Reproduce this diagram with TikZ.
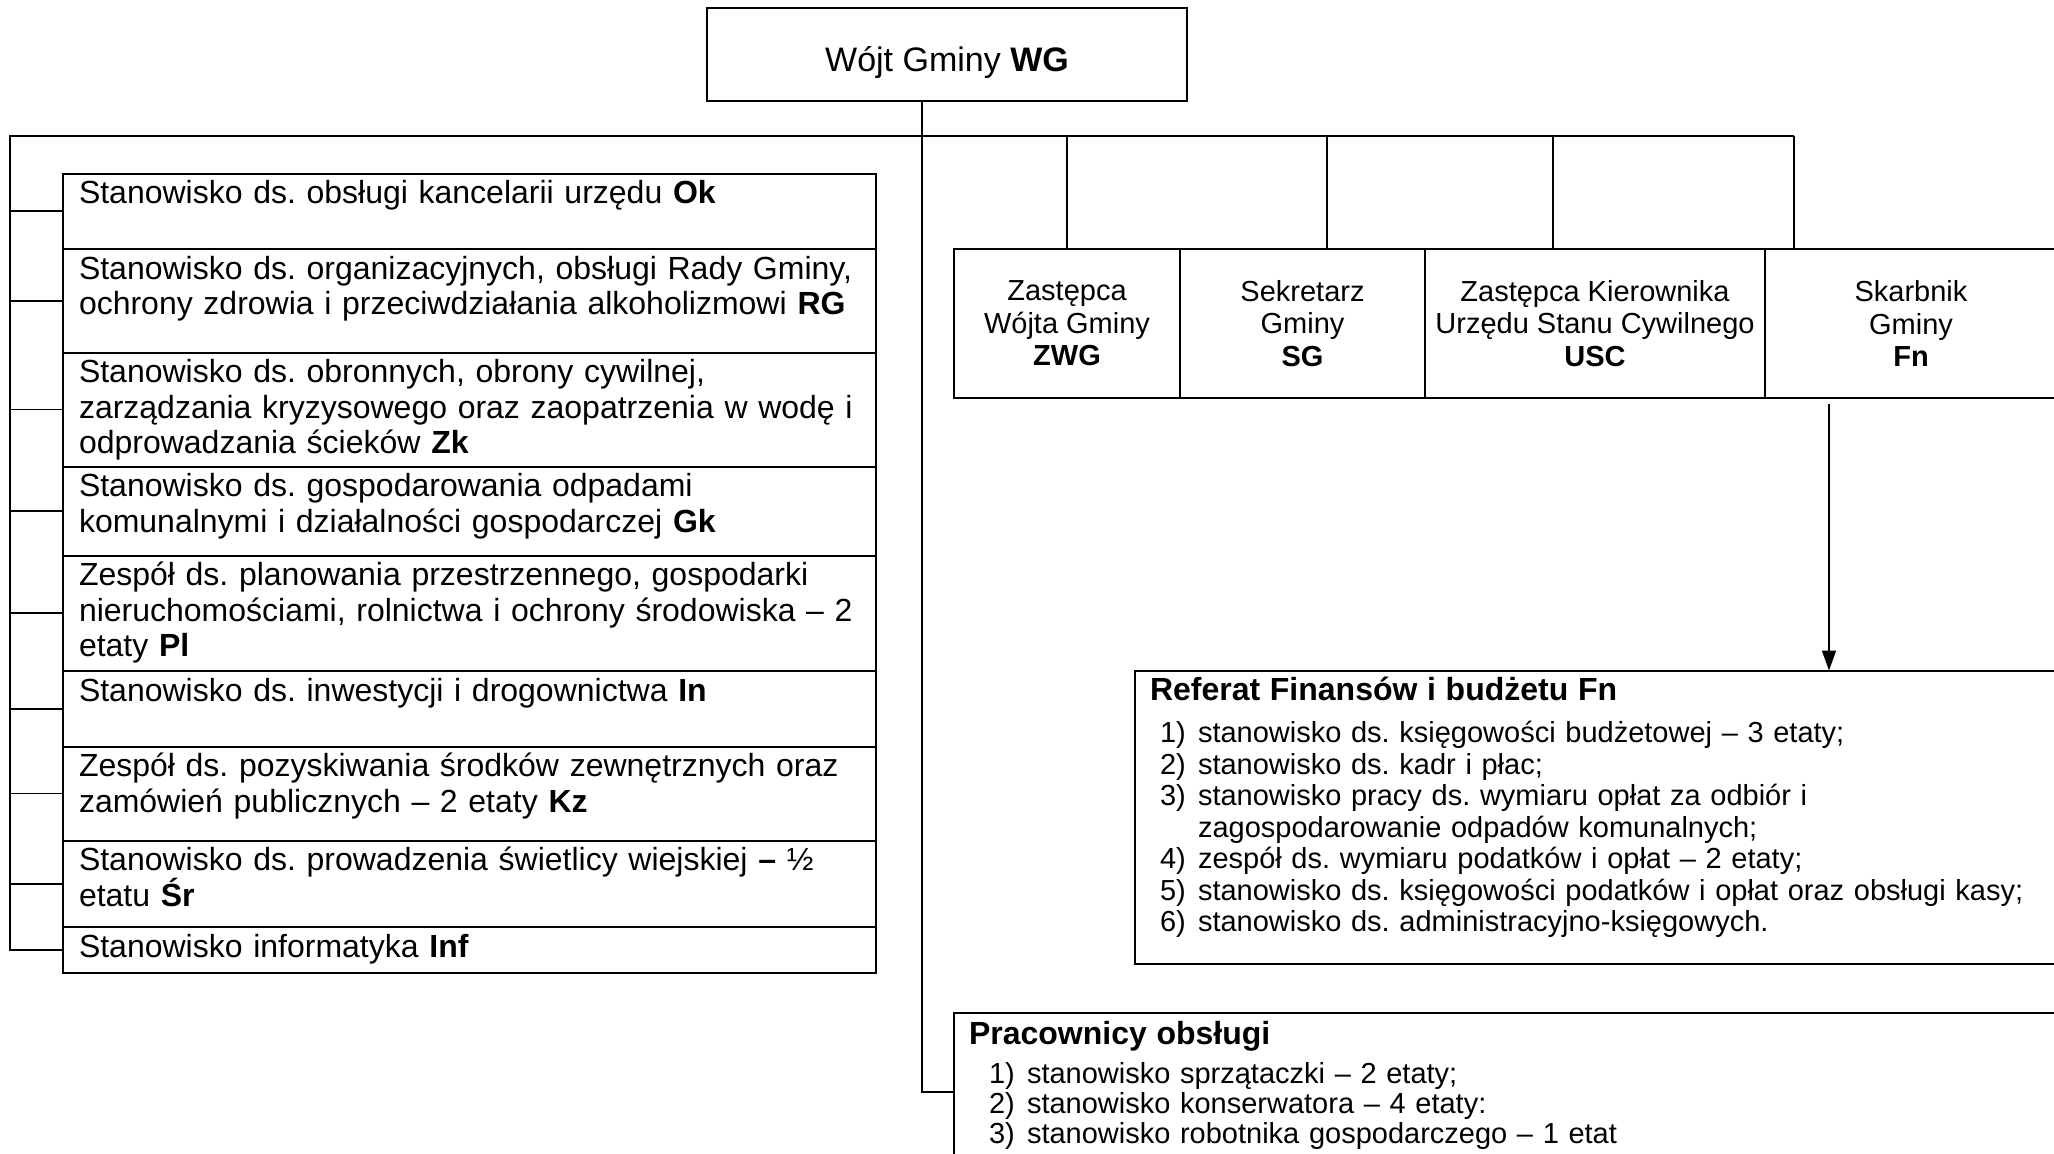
\documentclass[tikz,border=0pt]{standalone}
\usepackage{fontspec}
\setmainfont{Liberation Sans}
\frenchspacing
\usetikzlibrary{positioning, arrows.meta}

% numbered list line: indent, number, text
\newcommand{\pozycja}[3]{\makebox[#1][l]{\hspace*{\dimexpr#1-38pt\relax}#2)}#3}

\begin{document}
\begin{tikzpicture}[x=1pt, y=-1pt, line width=1.6pt,
    box/.style={draw, line width=2pt, inner sep=0pt, outer sep=0pt},
    wgbox/.style={box, minimum width=480pt, text height=63pt, text depth=30pt,
        font=\fontsize{34}{38}\selectfont},
    rowbox/.style={box, minimum height=149pt, align=center, font=\fontsize{29}{32.5}\selectfont},
    stbox/.style={box, anchor=north, text width=781pt, inner xsep=16pt, align=left,
        text height=30pt, font=\fontsize{32}{35.5}\selectfont},
    listbox/.style={box, anchor=north west, inner xsep=15pt, align=left},
    arr/.style={-{Triangle[length=20pt,width=14pt]}}]

    \useasboundingbox (0,0) rectangle (2054,1154);

    % 1. Wójt Gminy
    \node[wgbox] (wg) at (947,54.5) {Wójt Gminy \textbf{WG}};

    % 2. Stanowiska (left column)
    \node[stbox, anchor=north west, text depth=45.5pt] (ok) at (63,173.5)
        {Stanowisko ds. obsługi kancelarii urzędu \textbf{Ok}};
    \node[stbox, below=0pt of ok, text depth=73.5pt] (rg)
        {Stanowisko ds. organizacyjnych, obsługi Rady Gminy,\\ochrony zdrowia i przeciwdziałania alkoholizmowi \textbf{RG}};
    \node[stbox, below=0pt of rg, text depth=84pt] (zk)
        {Stanowisko ds. obronnych, obrony cywilnej,\\zarządzania kryzysowego oraz zaopatrzenia w wodę i\\odprowadzania ścieków \textbf{Zk}};
    \node[stbox, below=0pt of zk, text depth=59pt] (gk)
        {Stanowisko ds. gospodarowania odpadami\\komunalnymi i działalności gospodarczej \textbf{Gk}};
    \node[stbox, below=0pt of gk, text depth=85.5pt] (pl)
        {Zespół ds. planowania przestrzennego, gospodarki\\nieruchomościami, rolnictwa i ochrony środowiska – 2\\etaty \textbf{Pl}};
    \node[stbox, below=0pt of pl, text depth=45.5pt] (in)
        {Stanowisko ds. inwestycji i drogownictwa \textbf{In}};
    \node[stbox, below=0pt of in, text depth=64pt] (kz)
        {Zespół ds. pozyskiwania środków zewnętrznych oraz\\zamówień publicznych – 2 etaty \textbf{Kz}};
    \node[stbox, below=0pt of kz, text depth=56.5pt] (sr)
        {Stanowisko ds. prowadzenia świetlicy wiejskiej \textbf{–} ½\\etatu \textbf{Śr}};
    \node[stbox, below=0pt of sr, text depth=16pt] (inf)
        {Stanowisko informatyka \textbf{Inf}};

    % 3. Zastępca, Sekretarz, USC, Skarbnik (row)
    \node[rowbox, anchor=north west, minimum width=226pt] (zwg) at (954,249)
        {Zastępca\\Wójta Gminy\\\textbf{ZWG}};
    \node[rowbox, right=0pt of zwg, minimum width=245pt] (sg) {Sekretarz\\Gminy\\\textbf{SG}};
    \node[rowbox, right=0pt of sg, minimum width=340pt] (usc)
        {Zastępca Kierownika\\Urzędu Stanu Cywilnego\\\textbf{USC}};
    \node[rowbox, right=0pt of usc, minimum width=292pt] (fn) {Skarbnik\\Gminy\\\textbf{Fn}};

    % 4. Referat Finansów
    \node[listbox, text width=905pt, text height=30pt, text depth=263pt,
        font=\fontsize{29}{31.5}\selectfont] (ref) at (1135,670.5)
        {{\fontsize{32}{31.5}\selectfont\bfseries Referat Finansów i budżetu Fn}\\[10.5pt]
         \pozycja{48pt}{1}{stanowisko ds. księgowości budżetowej – 3 etaty;}\\
         \pozycja{48pt}{2}{stanowisko ds. kadr i płac;}\\
         \pozycja{48pt}{3}{stanowisko pracy ds. wymiaru opłat za odbiór i}\\
         \hspace*{48pt}zagospodarowanie odpadów komunalnych;\\
         \pozycja{48pt}{4}{zespół ds. wymiaru podatków i opłat – 2 etaty;}\\
         \pozycja{48pt}{5}{stanowisko ds. księgowości podatków i opłat oraz obsługi kasy;}\\
         \pozycja{48pt}{6}{stanowisko ds. administracyjno-księgowych.}};

    % 5. Pracownicy obsługi
    \node[listbox, text width=1090pt, text height=31pt, text depth=127pt,
        font=\fontsize{29}{30}\selectfont] (prac) at (954,1013)
        {{\fontsize{32}{30}\selectfont\bfseries Pracownicy obsługi}\\[9pt]
         \pozycja{58pt}{1}{stanowisko sprzątaczki – 2 etaty;}\\
         \pozycja{58pt}{2}{stanowisko konserwatora – 4 etaty:}\\
         \pozycja{58pt}{3}{stanowisko robotnika gospodarczego – 1 etat}};

    % 6. Connectors
    \coordinate (barL) at (10,136);
    \coordinate (barR) at (1794,136);
    \coordinate (wgfoot) at ([xshift=-25pt]wg.south);
    \coordinate (arrtop) at (1829,404);

    \draw (barR) -- (barL) |- (inf.west);
    \foreach \n in {ok,rg,zk,gk,pl,in,kz,sr}
        \draw (barL |- \n.west) -- (\n.west);

    \draw (zwg.north) -- (zwg.north |- barR);
    \draw ([xshift=24.5pt]sg.north) -- ([xshift=24.5pt]sg.north |- barR);
    \draw ([xshift=-42pt]usc.north) -- ([xshift=-42pt]usc.north |- barR);
    \draw (barR) -- (barR |- fn.north);

    \draw (wgfoot) |- (prac.west);
    \draw[arr] (arrtop) -- (arrtop |- ref.north);

\end{tikzpicture}
\end{document}
